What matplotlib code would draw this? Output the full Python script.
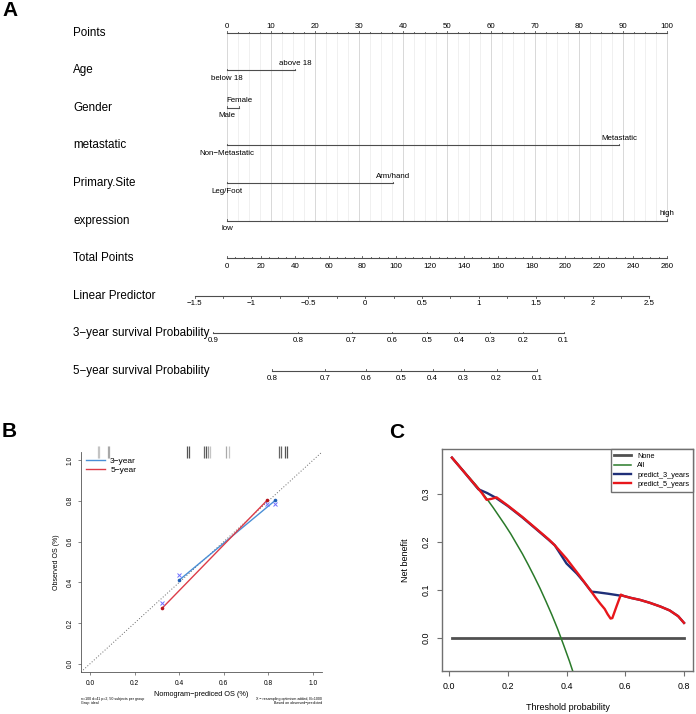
import numpy as np
import matplotlib.pyplot as plt

plt.rcParams['font.family'] = ['Liberation Sans', 'DejaVu Sans']

W, H = 696, 714

# ---------------- A: nomogram ----------------
row_names = ['Points', 'Age', 'Gender', 'metastatic', 'Primary.Site', 'expression',
             'Total Points', 'Linear Predictor', '3\u2212year survival Probability',
             '5\u2212year survival Probability']

# predictor levels and their points
age_levels = ['below 18', 'above 18']
age_pts = [0, 15.5]
gender_levels = ['Male', 'Female']
gender_pts = [0, 2.8]
meta_levels = ['Non\u2212Metastatic', 'Metastatic']
meta_pts = [0, 89.2]
site_levels = ['Leg/Foot', 'Arm/hand']
site_pts = [0, 37.8]
expr_levels = ['low', 'high']
expr_pts = [0, 100]

points_ticks = list(range(0, 101, 10))
total_ticks = list(range(0, 261, 20))
lp_ticks = [-1.5, -1, -0.5, 0, 0.5, 1, 1.5, 2, 2.5]
lp_labels = ['\u22121.5', '\u22121', '\u22120.5', '0', '0.5', '1', '1.5', '2', '2.5']
surv3_ticks = [0.9, 0.8, 0.7, 0.6, 0.5, 0.4, 0.3, 0.2, 0.1]
surv5_ticks = [0.8, 0.7, 0.6, 0.5, 0.4, 0.3, 0.2, 0.1]

# model constants
total_max = 260
lp_at_zero = -1.215      # linear predictor at 0 total points
lp_span = 3.87           # linear predictor range covered by 100 points
log_h0_3y = -0.912       # log cumulative baseline hazard, 3 years
log_h0_5y = -0.680       # log cumulative baseline hazard, 5 years

# ---------------- B: calibration ----------------
cal3_pred = [0.400, 0.831]
cal3_obs = [0.411, 0.803]
cal3_corr = [0.436, 0.783]
cal5_pred = [0.325, 0.794]
cal5_obs = [0.275, 0.803]
cal5_corr = [0.300, 0.783]
rug_x = [0.034, 0.042, 0.080, 0.087, 0.436, 0.444, 0.510, 0.518, 0.527,
         0.540, 0.612, 0.624, 0.848, 0.856, 0.874, 0.884]
rug_gray = ['#c4c4c4', '#c4c4c4', '#a8a8a8', '#a8a8a8', '#555555', '#555555',
            '#666666', '#555555', '#999999', '#c4c4c4', '#aaaaaa', '#c4c4c4',
            '#666666', '#666666', '#555555', '#555555']

# ---------------- C: decision curves ----------------
all_thr = [0.01, 0.03, 0.05, 0.07, 0.09, 0.11, 0.13, 0.15, 0.17, 0.19, 0.21, 0.23,
           0.25, 0.27, 0.29, 0.31, 0.33, 0.35, 0.37, 0.39, 0.41, 0.43]
all_nb = [0.375, 0.362, 0.348, 0.334, 0.320, 0.305, 0.289, 0.272, 0.254, 0.236,
          0.217, 0.196, 0.175, 0.152, 0.128, 0.103, 0.076, 0.048, 0.018, -0.015,
          -0.049, -0.086]
p3_thr = [0.01, 0.05, 0.10, 0.13, 0.157, 0.20, 0.25, 0.30, 0.34, 0.36, 0.378, 0.40,
          0.435, 0.46, 0.48, 0.486, 0.503, 0.54, 0.582, 0.59, 0.62, 0.65, 0.683,
          0.72, 0.751, 0.78, 0.80]
p3_nb = [0.376, 0.347, 0.310, 0.302, 0.293, 0.275, 0.251, 0.225, 0.204, 0.193, 0.176,
         0.155, 0.134, 0.116, 0.100, 0.096, 0.095, 0.092, 0.088, 0.088, 0.083, 0.079,
         0.073, 0.065, 0.057, 0.045, 0.031]
p5_thr = [0.01, 0.05, 0.10, 0.112, 0.128, 0.145, 0.162, 0.20, 0.25, 0.30, 0.34,
          0.36, 0.40, 0.44, 0.48, 0.50, 0.515, 0.53, 0.54, 0.55, 0.556, 0.57, 0.585,
          0.595, 0.62, 0.65, 0.683, 0.72, 0.751, 0.78, 0.80]
p5_nb = [0.376, 0.347, 0.311, 0.302, 0.288, 0.290, 0.293, 0.276, 0.252, 0.226, 0.205,
         0.193, 0.165, 0.133, 0.100, 0.083, 0.071, 0.060, 0.049, 0.040, 0.041, 0.065,
         0.090, 0.087, 0.083, 0.079, 0.073, 0.065, 0.057, 0.045, 0.031]
none_thr = [0.01, 0.80]
none_nb = [0.0, 0.0]


def from_total(tp):
    return np.asarray(tp, float) * 100 / total_max


def from_lp(lp):
    return (np.asarray(lp, float) - lp_at_zero) * 100 / lp_span


def from_surv(s, log_h0):
    s = np.asarray(s, float)
    return from_lp(np.log(-np.log(s)) - log_h0)


fig = plt.figure(figsize=(W / 100, H / 100), dpi=100)

# panel A lives in one axes: x in "points", y in pixels from the top
ax = fig.add_axes([0, 1 - 390 / H, 1, 390 / H])
ax.set_xlim(-227 / 4.4, (W - 227) / 4.4)
ax.set_ylim(390, 0)
ax.axis('off')

rows = [32.7 + 37.6 * i for i in range(10)]
axc = '#4d4d4d'
lab_fs = 8.4
tick_fs = 5.7

for i, name in enumerate(row_names):
    ax.text(-35, rows[i], name, fontsize=lab_fs, va='center', ha='left')

# grid
for p in np.arange(0, 100.01, 2.5):
    c = '#d2d2d2' if p % 10 == 0 else '#eeeeee'
    ax.plot([p, p], [rows[0], rows[5]], color=c, lw=0.6, zorder=0)

# points axis
ax.plot([0, 100], [rows[0], rows[0]], color=axc, lw=0.8)
for p in np.arange(0, 100.01, 2.5):
    ln = 2.2 if p % 10 == 0 else 1.2
    ax.plot([p, p], [rows[0], rows[0] - ln], color=axc, lw=0.6)
for p in points_ticks:
    ax.text(p, rows[0] - 6.5, str(p), fontsize=tick_fs, ha='center', va='center')

# predictors
preds = [(age_levels, age_pts), (gender_levels, gender_pts), (meta_levels, meta_pts),
         (site_levels, site_pts), (expr_levels, expr_pts)]
for k, (levels, pts) in enumerate(preds):
    y = rows[k + 1]
    ax.plot([min(pts), max(pts)], [y, y], color=axc, lw=0.8)
    for j, (lv, p) in enumerate(zip(levels, pts)):
        ax.plot([p, p], [y, y - 1.5], color=axc, lw=0.6)
        dy = 8 if j == 0 else -7
        ax.text(p, y + dy, lv, fontsize=tick_fs, ha='center', va='center')

# total points
y = rows[6]
ax.plot(from_total([0, total_max]), [y, y], color=axc, lw=0.8)
for tp in range(0, total_max + 1, 5):
    ln = 2.0 if tp % 20 == 0 else 1.2
    ax.plot(from_total([tp, tp]), [y, y - ln], color=axc, lw=0.6)
for tp in total_ticks:
    ax.text(from_total(tp), y + 8, str(tp), fontsize=tick_fs, ha='center', va='center')

# linear predictor
y = rows[7]
ax.plot(from_lp([lp_ticks[0], lp_ticks[-1]]), [y, y], color=axc, lw=0.8)
for v in np.arange(lp_ticks[0], lp_ticks[-1] + 0.01, 0.25):
    ax.plot(from_lp([v, v]), [y, y + 1.8], color=axc, lw=0.6)
for v, s in zip(lp_ticks, lp_labels):
    ax.text(from_lp(v), y + 7.5, s, fontsize=tick_fs, ha='center', va='center')

# survival scales
for r, ticks, h0 in [(8, surv3_ticks, log_h0_3y), (9, surv5_ticks, log_h0_5y)]:
    y = rows[r]
    ax.plot(from_surv([ticks[0], ticks[-1]], h0), [y, y], color=axc, lw=0.8)
    for v in ticks:
        xv = from_surv(v, h0)
        ax.plot([xv, xv], [y, y - 1.8], color=axc, lw=0.6)
        ax.text(xv, y + 7.5, f'{v:.1f}', fontsize=tick_fs, ha='center', va='center')

fig.text(2 / W, 1 - 11 / H, 'A', fontsize=15, fontweight='bold', va='center')
fig.text(2 / W, 1 - 432 / H, 'B', fontsize=15, fontweight='bold', va='center')
fig.text(389 / W, 1 - 433 / H, 'C', fontsize=15, fontweight='bold', va='center')

# ---------------- panel B ----------------
bx = fig.add_axes([81 / W, 1 - 672 / H, 241 / W, 220 / H])
bx.set_xlim(-0.04, 1.04)
bx.set_ylim(-0.04, 1.04)
for s in ['top', 'right']:
    bx.spines[s].set_visible(False)
for s in ['left', 'bottom']:
    bx.spines[s].set_linewidth(0.6)
    bx.spines[s].set_color('#555555')
ticks01 = [0, 0.2, 0.4, 0.6, 0.8, 1.0]
bx.set_xticks(ticks01, [f'{t:.1f}' for t in ticks01])
bx.set_yticks(ticks01, [f'{t:.1f}' for t in ticks01])
bx.tick_params(length=2.5, width=0.5, labelsize=4.8, pad=3, color='#555555')
bx.tick_params(axis='y', labelrotation=90)
plt.setp(bx.get_yticklabels(), va='center')

bx.axline((0, 0), slope=1, color='#666666', lw=0.7, ls=(0, (1, 2)))
bx.vlines(rug_x, 1.01, 1.07, colors=rug_gray, lw=0.9, clip_on=False)

bx.plot(cal3_pred, cal3_obs, color='#4a8fd6', lw=1.0, label='3\u2212year')
bx.plot(cal5_pred, cal5_obs, color='#dc3c48', lw=1.0, label='5\u2212year')
bx.plot(cal3_pred, cal3_obs, 'o', color='#1f5fb4', ms=2.6, mec='none')
bx.plot(cal5_pred, cal5_obs, 'o', color='#b5121b', ms=2.6, mec='none')
bx.plot(cal3_pred, cal3_corr, 'x', color='#6f6fff', ms=3, mew=0.7)
bx.plot(cal5_pred, cal5_corr, 'x', color='#6f6fff', ms=3, mew=0.7)

bx.legend(loc='upper left', bbox_to_anchor=(0.0, 1.0), frameon=False, fontsize=6,
          handlelength=2.3, labelspacing=0.15, borderaxespad=0.2, handletextpad=0.6)

bx.set_xlabel('Nomogram\u2212prediced OS (%)', fontsize=5.3)
bx.xaxis.set_label_coords(0.5, -(695 - 672) / 220)
bx.xaxis.label.set_va('center')
bx.set_ylabel('Observed OS (%)', fontsize=5.0)
bx.yaxis.set_label_coords(-(81 - 57) / 241, 0.5)
bx.yaxis.label.set_va('center')
bx.text(0, -(701 - 672) / 220, 'n=100 d=41 p=2, 50 subjects per group\nGray: ideal',
        transform=bx.transAxes, fontsize=2.6, ha='left', va='center', linespacing=1.1)
bx.text(1, -(701 - 672) / 220, 'X \u2212 resampling optimism added, B=1000\nBased on observed\u2212predicted',
        transform=bx.transAxes, fontsize=2.6, ha='right', va='center', linespacing=1.1,
        multialignment='right')

# ---------------- panel C ----------------
cx = fig.add_axes([442 / W, 1 - 671 / H, 251 / W, 222 / H])
cx.set_xlim(-0.0238, 0.8306)
cx.set_ylim(-0.0695, 0.394)
for s in cx.spines.values():
    s.set_color('#707070')
    s.set_linewidth(1.0)
cx.set_xticks([0, 0.2, 0.4, 0.6, 0.8], ['0.0', '0.2', '0.4', '0.6', '0.8'])
cx.set_yticks([0, 0.1, 0.2, 0.3], ['0.0', '0.1', '0.2', '0.3'])
cx.tick_params(length=3.5, width=0.8, labelsize=6.4, pad=4.5, color='#707070')
cx.tick_params(axis='y', labelrotation=90)
plt.setp(cx.get_yticklabels(), va='center')

cx.plot(none_thr, none_nb, color='#505050', lw=2.0, label='None')
cx.plot(all_thr, all_nb, color='#2a7a2a', lw=1.1, label='All')
cx.plot(p3_thr, p3_nb, color='#1f2f78', lw=1.7, label='predict_3_years')
cx.plot(p5_thr, p5_nb, color='#e8161b', lw=1.7, label='predict_5_years')

leg = cx.legend(loc='upper right', fontsize=5.3, fancybox=False, edgecolor='#707070',
                framealpha=1, borderaxespad=0, handlelength=2.3, labelspacing=0.3,
                borderpad=0.5)
leg.get_frame().set_linewidth(1.0)

cx.set_xlabel('Threshold probability', fontsize=6.5)
cx.xaxis.set_label_coords(0.5, -(708 - 671) / 222)
cx.xaxis.label.set_va('center')
cx.set_ylabel('Net benefit', fontsize=6.5)
cx.yaxis.set_label_coords(-(442 - 405) / 251, 0.5)
cx.yaxis.label.set_va('center')

fig.savefig('out.png', dpi=100)
